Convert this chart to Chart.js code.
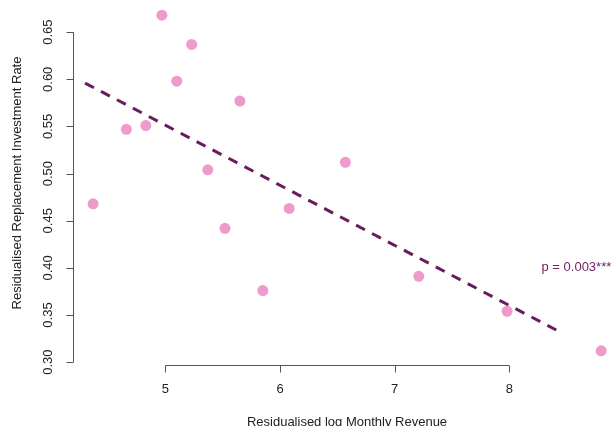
<!DOCTYPE html>
<html>
<head>
<meta charset="utf-8">
<script src="https://cdn.jsdelivr.net/npm/chart.js@4.4.1/dist/chart.umd.min.js"></script>
<style>
  body { margin: 0; background: #fff; }
  #wrap { width: 614px; height: 426px; }
</style>
</head>
<body>
<div id="wrap"><canvas id="scatterChart"></canvas></div>
<script>
const revenueX = [4.37, 4.66, 4.83, 4.97, 5.10, 5.23, 5.37, 5.52, 5.65, 5.85, 6.08, 6.57, 7.21, 7.98, 8.80];
const investY = [0.468, 0.547, 0.551, 0.668, 0.598, 0.637, 0.504, 0.442, 0.577, 0.376, 0.463, 0.512, 0.391, 0.354, 0.312];
const fitX = [4.30, 8.41];
const fitY = [0.596, 0.334];
const xTicks = [5, 6, 7, 8];
const yTicks = [0.30, 0.35, 0.40, 0.45, 0.50, 0.55, 0.60, 0.65];
const pLabel = 'p = 0.003***';
const pPos = [8.28, 0.40];

const FONT = '13px "Liberation Sans", Arial, sans-serif';

const rAxes = {
    id: 'rAxes',
    afterDraw(chart) {
        const ctx = chart.ctx;
        const xs = chart.scales.x;
        const ys = chart.scales.y;
        const area = chart.chartArea;
        ctx.save();
        ctx.lineWidth = 1;
        ctx.strokeStyle = '#555';
        ctx.fillStyle = '#222';
        ctx.font = FONT;

        // y axis
        const ax = Math.round(area.left) + 0.5;
        ctx.beginPath();
        ctx.moveTo(ax, ys.getPixelForValue(yTicks[0]));
        ctx.lineTo(ax, ys.getPixelForValue(yTicks[yTicks.length - 1]));
        yTicks.forEach(t => {
            const py = Math.round(ys.getPixelForValue(t)) + 0.5;
            ctx.moveTo(ax, py);
            ctx.lineTo(ax - 7, py);
        });
        ctx.stroke();
        yTicks.forEach(t => {
            const py = ys.getPixelForValue(t);
            ctx.save();
            ctx.translate(48, py);
            ctx.rotate(-Math.PI / 2);
            ctx.textAlign = 'center';
            ctx.textBaseline = 'middle';
            ctx.fillText(t.toFixed(2), 0, 0);
            ctx.restore();
        });

        // x axis
        const ay = Math.round(area.bottom) + 0.5;
        ctx.beginPath();
        ctx.moveTo(xs.getPixelForValue(xTicks[0]), ay);
        ctx.lineTo(xs.getPixelForValue(xTicks[xTicks.length - 1]), ay);
        xTicks.forEach(t => {
            const px = Math.round(xs.getPixelForValue(t)) + 0.5;
            ctx.moveTo(px, ay);
            ctx.lineTo(px, ay + 7);
        });
        ctx.stroke();
        ctx.textAlign = 'center';
        ctx.textBaseline = 'middle';
        xTicks.forEach(t => {
            ctx.fillText(String(t), xs.getPixelForValue(t), 389);
        });

        // axis titles
        ctx.fillText('Residualised log Monthly Revenue', 347, 422);
        ctx.save();
        ctx.translate(17, 183);
        ctx.rotate(-Math.PI / 2);
        ctx.fillText('Residualised Replacement Investment Rate', 0, 0);
        ctx.restore();

        // p value
        ctx.fillStyle = '#6E2466';
        ctx.textAlign = 'left';
        ctx.fillText(pLabel, xs.getPixelForValue(pPos[0]), ys.getPixelForValue(pPos[1]));
        ctx.restore();
    }
};

const ctx = document.getElementById('scatterChart').getContext('2d');
new Chart(ctx, {
    type: 'scatter',
    data: {
        datasets: [{
            type: 'line',
            data: fitX.map((x, i) => ({ x: x, y: fitY[i] })),
            borderColor: '#6A1B5E',
            borderWidth: 3,
            borderDash: [10, 8],
            pointRadius: 0,
            fill: false
        }, {
            data: revenueX.map((x, i) => ({ x: x, y: investY[i] })),
            backgroundColor: '#EE9ACA',
            borderWidth: 0,
            pointRadius: 5.5,
            pointHoverRadius: 5.5
        }]
    },
    options: {
        responsive: true,
        maintainAspectRatio: false,
        animation: false,
        clip: false,
        layout: { autoPadding: false, padding: { left: 73, right: 0, top: 2, bottom: 61 } },
        scales: {
            x: { type: 'linear', display: false, min: 4.195, max: 8.912 },
            y: { type: 'linear', display: false, min: 0.297, max: 0.682 }
        },
        plugins: {
            legend: { display: false },
            tooltip: { enabled: false }
        }
    },
    plugins: [rAxes]
});
</script>
</body>
</html>
